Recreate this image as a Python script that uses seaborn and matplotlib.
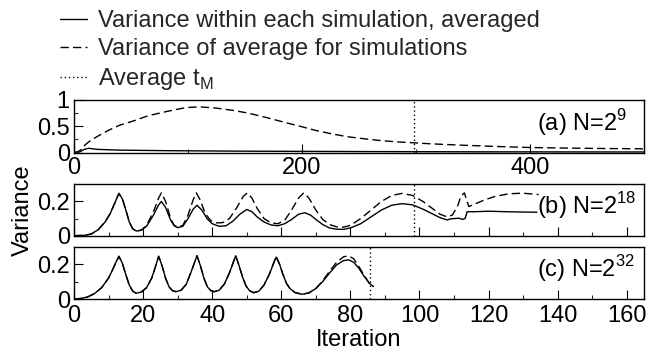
import numpy as np
import pandas as pd
import matplotlib
matplotlib.use("Agg")
import matplotlib.pyplot as plt
from matplotlib.lines import Line2D
from matplotlib.ticker import FixedLocator, FuncFormatter
import seaborn as sns

# ---------------- data ----------------
# Panel (a) N=2^9
a_x_between = [0, 3, 6, 10, 14, 20, 30, 40, 52, 65, 81, 98, 110, 125, 140, 153, 168, 182,
               200, 212, 225, 240, 255, 270, 285, 298, 313, 340, 370, 400, 430, 460, 500]
a_between = [0, 0.01, 0.05, 0.15, 0.22, 0.30, 0.42, 0.52, 0.60, 0.70, 0.78, 0.855, 0.87, 0.845,
             0.80, 0.75, 0.67, 0.59, 0.49, 0.42, 0.36, 0.30, 0.26, 0.225, 0.20, 0.185, 0.165,
             0.14, 0.115, 0.095, 0.085, 0.077, 0.07]
a_x_within = [0, 5, 9, 13, 20, 40, 80, 150, 250, 350, 500]
a_within = [0, 0.01, 0.06, 0.08, 0.06, 0.045, 0.035, 0.025, 0.018, 0.013, 0.01]
a_tM = 298

# Panel (b) N=2^18
b_x_within = [0, 3, 5, 7, 9, 10.5, 12, 13, 14, 15, 16, 17, 18.1, 19.5, 21, 23, 24.5, 25.3, 26.5,
              28, 29, 30, 31.5, 33, 34.5, 35.6, 37, 38.5, 40, 42, 44, 46, 48, 50, 51.5, 53, 55,
              57, 59, 61, 63, 65, 66.8, 68.5, 70, 72, 74, 76, 78, 80, 83, 86, 89, 92, 95, 98,
              101, 104, 106, 108, 109, 110, 111.5, 112.5, 113.2, 113.8, 116, 120, 125, 130, 134]
b_within = [0, 0.002, 0.01, 0.035, 0.08, 0.13, 0.2, 0.247, 0.215, 0.15, 0.08, 0.04, 0.027, 0.032,
            0.055, 0.12, 0.18, 0.2, 0.165, 0.09, 0.058, 0.047, 0.055, 0.1, 0.155, 0.178, 0.15,
            0.1, 0.07, 0.055, 0.058, 0.085, 0.125, 0.153, 0.14, 0.11, 0.08, 0.063, 0.058, 0.07,
            0.095, 0.125, 0.134, 0.12, 0.095, 0.065, 0.045, 0.038, 0.037, 0.045, 0.07, 0.11,
            0.15, 0.178, 0.187, 0.18, 0.155, 0.125, 0.105, 0.092, 0.098, 0.1, 0.102, 0.095,
            0.1, 0.14, 0.14, 0.143, 0.14, 0.138, 0.137]
b_x_between = [0, 3, 5, 7, 9, 10.5, 12, 13, 14, 15, 16, 17, 18.1, 19.5, 21, 23, 24.5, 25.3, 26.5,
               28, 29, 30, 31.5, 33, 34.5, 35.4, 36.5, 38, 39.5, 41, 43, 45, 47, 49, 50.2, 51.5,
               53, 55, 57, 59, 61, 63, 65, 66.5, 68, 70, 72, 74, 76, 78, 80, 83, 86, 89, 92, 95,
               98, 101, 104, 106, 108, 109.5, 111, 112, 113, 113.8, 114.3, 116, 119, 122, 126,
               130, 134.5]
b_between = [0, 0.002, 0.01, 0.035, 0.08, 0.13, 0.2, 0.247, 0.215, 0.15, 0.08, 0.04, 0.027, 0.033,
             0.06, 0.14, 0.22, 0.25, 0.2, 0.1, 0.06, 0.05, 0.06, 0.12, 0.21, 0.25, 0.21, 0.13,
             0.09, 0.075, 0.076, 0.1, 0.16, 0.23, 0.25, 0.22, 0.16, 0.1, 0.075, 0.07, 0.09,
             0.15, 0.22, 0.25, 0.22, 0.15, 0.095, 0.065, 0.052, 0.05, 0.06, 0.1, 0.15, 0.2,
             0.235, 0.247, 0.235, 0.2, 0.155, 0.125, 0.11, 0.12, 0.17, 0.23, 0.25, 0.2, 0.17,
             0.185, 0.21, 0.23, 0.245, 0.248, 0.24]
b_tM = 98.5

# Panel (c) N=2^32
c_x = [0, 2, 4, 6, 8, 10, 11, 12, 13, 14, 15, 16, 17, 18, 19.5, 21, 22.5, 23.5, 24.5, 25.5, 26.5,
       27.5, 28.5, 29.5, 31, 32.5, 33.8, 35.6, 36.6, 37.6, 38.6, 39.6, 40.6, 42, 43.5, 45, 46.8,
       47.8, 48.8, 49.8, 50.8, 52, 53.5, 55, 56.5, 58.5, 59.5, 60.5, 61.5, 62.5, 64, 66, 68, 70,
       72, 74, 76, 78, 79.5, 81, 82.5, 84, 85.5, 86.7]
c_within = [0, 0.003, 0.012, 0.032, 0.065, 0.12, 0.16, 0.205, 0.245, 0.205, 0.14, 0.08, 0.045,
            0.033, 0.04, 0.065, 0.12, 0.18, 0.245, 0.19, 0.12, 0.07, 0.048, 0.042, 0.05, 0.085,
            0.15, 0.248, 0.19, 0.12, 0.07, 0.048, 0.042, 0.05, 0.085, 0.15, 0.248, 0.19, 0.125,
            0.075, 0.048, 0.036, 0.045, 0.08, 0.14, 0.24, 0.2, 0.14, 0.09, 0.06, 0.037, 0.027,
            0.035, 0.06, 0.1, 0.15, 0.195, 0.22, 0.225, 0.21, 0.175, 0.13, 0.09, 0.071]
c_between = [0, 0.003, 0.012, 0.032, 0.065, 0.12, 0.16, 0.205, 0.245, 0.205, 0.14, 0.08, 0.045,
             0.033, 0.04, 0.065, 0.12, 0.18, 0.245, 0.19, 0.12, 0.07, 0.048, 0.042, 0.05, 0.085,
             0.15, 0.248, 0.19, 0.12, 0.07, 0.048, 0.042, 0.05, 0.085, 0.15, 0.248, 0.19, 0.125,
             0.075, 0.048, 0.036, 0.045, 0.08, 0.14, 0.245, 0.2, 0.14, 0.09, 0.06, 0.037, 0.027,
             0.035, 0.06, 0.105, 0.16, 0.21, 0.242, 0.248, 0.23, 0.185, 0.135, 0.09, 0.071]
c_tM = 85.6

legend_labels = ["Variance within each simulation, averaged",
                 "Variance of average for simulations",
                 "Average t$_\\mathregular{M}$"]
panel_labels = ["(a) N=2$^\\mathregular{9}$", "(b) N=2$^\\mathregular{18}$",
                "(c) N=2$^\\mathregular{32}$"]

# ---------------- style ----------------
sns.set_theme(style="ticks")
plt.rcParams["font.family"] = ["Liberation Sans", "DejaVu Sans"]
plt.rcParams["mathtext.fontset"] = "custom"
plt.rcParams["mathtext.rm"] = "Liberation Sans"
plt.rcParams["axes.linewidth"] = 1.0
FS = 17

fig = plt.figure(figsize=(6.5, 3.52), dpi=100)
fig.patch.set_facecolor("white")
L, W = 74 / 650, 570 / 650
ax_a = fig.add_axes([L, 1 - 152.5 / 352, W, 52.5 / 352])
ax_b = fig.add_axes([L, 1 - 235.7 / 352, W, 51.4 / 352])
ax_c = fig.add_axes([L, 1 - 299 / 352, W, 52.3 / 352])

DASH = (0, (6, 3))
DOT = (0, (1, 2))
lw = 1.0

def draw(ax, xw, yw, xb, yb, tM):
    sns.lineplot(x=xw, y=yw, ax=ax, color="black", lw=lw, sort=False, estimator=None)
    sns.lineplot(x=xb, y=yb, ax=ax, color="black", lw=lw, sort=False, estimator=None,
                 linestyle=DASH)
    ax.axvline(tM, color="black", lw=lw, linestyle=DOT)

draw(ax_a, a_x_within, a_within, a_x_between, a_between, a_tM)
draw(ax_b, b_x_within, b_within, b_x_between, b_between, b_tM)
draw(ax_c, c_x, c_within, c_x, c_between, c_tM)

fmt = FuncFormatter(lambda v, p: "%g" % v)
for ax in (ax_a, ax_b, ax_c):
    ax.set_facecolor("white")
    for s in ax.spines.values():
        s.set_visible(True)
        s.set_color("black")
        s.set_linewidth(1.0)
    ax.tick_params(which="major", direction="in", length=6.5, width=0.8, labelsize=FS,
                   pad=3, colors="black", top=False, right=False)
    ax.tick_params(which="minor", direction="in", length=3.2, width=0.8, top=False, right=False)
    ax.yaxis.set_major_formatter(fmt)
    ax.xaxis.set_major_formatter(fmt)
    ax.set_xlabel("")
    ax.set_ylabel("")

ax_a.set_xlim(0, 500)
ax_a.set_ylim(0, 1)
ax_a.xaxis.set_major_locator(FixedLocator([0, 200, 400]))
ax_a.xaxis.set_minor_locator(FixedLocator([100, 300]))
ax_a.yaxis.set_major_locator(FixedLocator([0, 0.5, 1]))
ax_a.yaxis.set_minor_locator(FixedLocator([0.25, 0.75]))
ax_a.tick_params(axis="x", pad=3)

for ax in (ax_b, ax_c):
    ax.set_xlim(0, 165)
    ax.set_ylim(0, 0.3)
    ax.xaxis.set_major_locator(FixedLocator(list(range(0, 161, 20))))
    ax.xaxis.set_minor_locator(FixedLocator(list(range(10, 161, 20))))
    ax.yaxis.set_major_locator(FixedLocator([0, 0.2]))
    ax.yaxis.set_minor_locator(FixedLocator([0.1]))
ax_b.tick_params(axis="x", labelbottom=False)
ax_c.tick_params(axis="x", pad=4)

for ax, lab in zip((ax_a, ax_b, ax_c), panel_labels):
    ax.text(0.812, 0.42, lab, transform=ax.transAxes, ha="left", va="baseline",
            fontsize=FS, color="black")

ax_b.set_ylabel("Variance", fontsize=FS, labelpad=2, color="black")
ax_c.set_xlabel("Iteration", fontsize=FS, labelpad=2, color="black")

handles = [Line2D([], [], color="black", lw=lw),
           Line2D([], [], color="black", lw=lw, linestyle=DASH),
           Line2D([], [], color="black", lw=lw, linestyle=DOT)]
fig.legend(handles, legend_labels, loc="upper left", bbox_to_anchor=(0.092, 0.972),
           frameon=False, fontsize=FS, handlelength=1.15, handletextpad=0.45,
           labelspacing=0.26, borderpad=0, borderaxespad=0)

fig.savefig("out.png", dpi=100, facecolor="white")
